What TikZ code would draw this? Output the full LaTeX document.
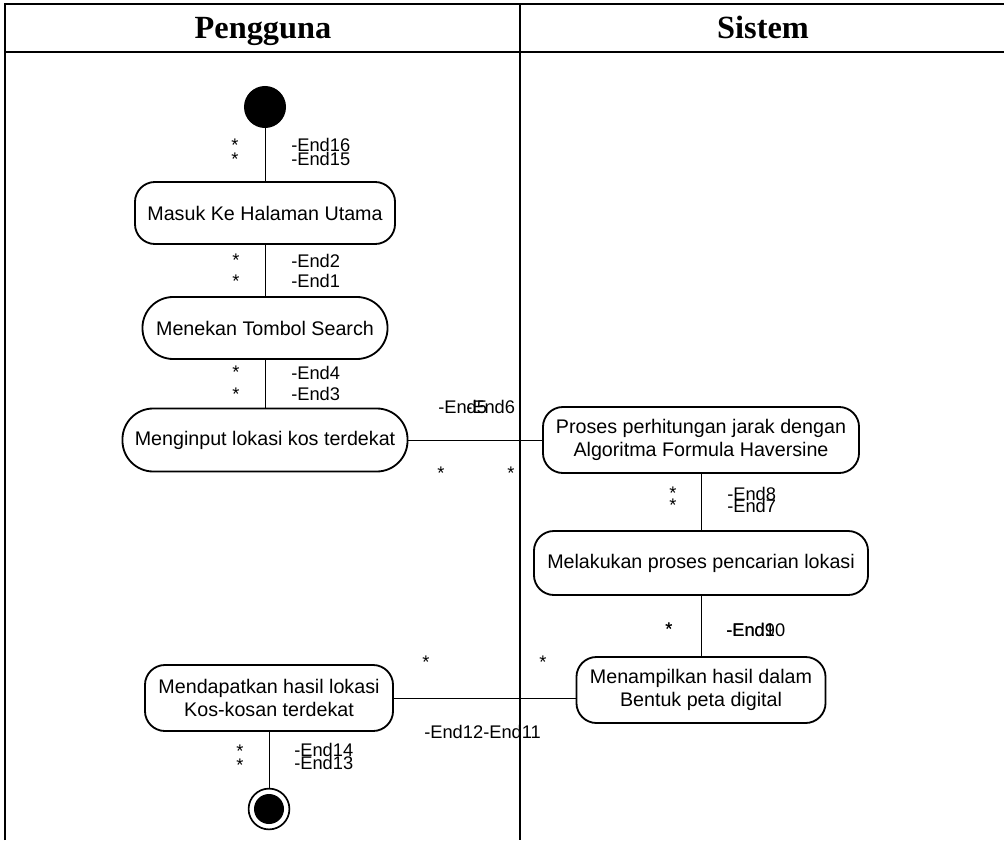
\documentclass[tikz,border=0pt]{standalone}
\usepackage{fontspec}
\setmainfont{Liberation Sans}
\newfontfamily\headfont{Liberation Serif}
\usetikzlibrary{calc}

\begin{document}
\begin{tikzpicture} [x=0.025cm, y=-0.025cm,
  lane/.style={line width=1.6pt},
  link/.style={line width=0.7pt},
  act/.style={draw, line width=1.3pt, rounded corners=0.5cm, align=center, inner sep=0pt, font=\fontsize{14}{16.5}\selectfont},
  pill/.style={act, rounded corners=0.77cm},
  head/.style={anchor=base, inner sep=0pt, font=\headfont\bfseries\fontsize{23}{23}\selectfont},
  endlbl/.style={anchor=base west, inner sep=0pt, font=\fontsize{13}{13}\selectfont},
  mult/.style={anchor=base, inner sep=0pt, font=\fontsize{13}{13}\selectfont}]
\useasboundingbox (0,0) rectangle (1004,840);

\draw[lane] (5,840) -- (5,4) -- (1004,4);
\draw[lane] (5,52) -- (1004,52);
\draw[lane] (520,4) -- (520,840);
\node[head] (pengguna) at (263,39) {Pengguna};
\node[head] (sistem) at (763,39) {Sistem};

\node[circle, fill, inner sep=0pt, minimum size=1.05cm] (start) at (265,107) {};
\node[act, minimum width=6.5cm, minimum height=1.55cm] (masuk) at (265,213) {Masuk Ke Halaman Utama};
\node[pill, minimum width=6.125cm, minimum height=1.55cm] (tombol) at (265,328) {Menekan Tombol Search};
\node[pill, minimum width=7.125cm, minimum height=1.575cm] (input) at (265,440) {Menginput lokasi kos terdekat};
\node[act, minimum width=7.9cm, minimum height=1.65cm] (hitung) at (701,440) {Proses perhitungan jarak dengan\\Algoritma Formula Haversine};
\node[act, minimum width=8.35cm, minimum height=1.6cm] (cari) at (701,563) {Melakukan proses pencarian lokasi};
\node[act, minimum width=6.225cm, minimum height=1.65cm] (tampil) at (701,690) {Menampilkan hasil dalam\\Bentuk peta digital};
\node[act, minimum width=6.2cm, minimum height=1.65cm] (hasil) at (269,698) {Mendapatkan hasil lokasi\\Kos-kosan terdekat};
\node[circle, draw, line width=1.2pt, inner sep=0pt, minimum size=1.02cm] (stop) at (269,809) {};
\node[circle, fill, inner sep=0pt, minimum size=0.75cm] (stopdot) at (stop) {};

\draw[link] (start) -- (masuk);
\draw[link] (masuk) -- (tombol);
\draw[link] (tombol) -- (input);
\draw[link] (input) -- (hitung);
\draw[link] (hitung) -- (cari);
\draw[link] (cari) -- (tampil);
\draw[link] (hasil.east) -- (hasil.east -| tampil.west);
\draw[link] (hasil) -- (stop);

\foreach \t/\x/\y in {16/291/151, 15/291/166, 2/291/267, 1/291/287, 4/291/379, 3/291/400,
  5/438/413, 6/466/413, 8/727/500, 7/727/512, 9/726/636, 10/726/636,
  12/424/738, 11/483/738, 14/294/756, 13/294/769}
\node[endlbl] (end\t) at (\x,\y) {-End\t};

\foreach \x/\y [count=\i] in {235/151, 235/166, 236/266, 236/287, 236/378, 236/400,
  441/479, 511/479, 673/499, 673/511, 669/635, 669/635, 426/668, 543/668, 240/757, 240/771}
\node[mult] (mult\i) at (\x,\y) {*};

\end{tikzpicture}
\end{document}
